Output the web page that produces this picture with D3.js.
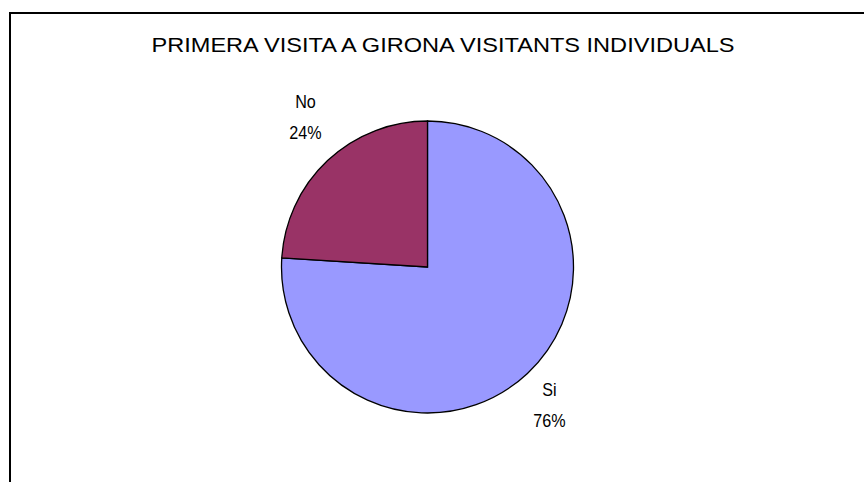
<!DOCTYPE html>
<html><head><meta charset="utf-8">
<script src="https://cdn.jsdelivr.net/npm/d3@7"></script>
<style>html,body{margin:0;padding:0;background:#fff;}svg{display:block;}</style>
</head><body>
<svg id="c" width="864" height="482"></svg>
<script>
const title = "PRIMERA VISITA A GIRONA VISITANTS INDIVIDUALS";
const categories = ["Si", "No"];
const values = [76, 24];
const colors = ["#9999FF", "#993366"];

const FONT = "Liberation Sans, Arial, sans-serif";
const svg = d3.select("#c");
svg.append("rect").attr("x", 10).attr("y", 13).attr("width", 900).attr("height", 600)
  .attr("fill", "#fff").attr("stroke", "#000").attr("stroke-width", 2);

svg.append("text").attr("x", 443).attr("y", 52).attr("text-anchor", "middle")
  .attr("font-family", FONT).attr("font-size", 19.5)
  .attr("textLength", 583).attr("lengthAdjust", "spacingAndGlyphs")
  .text(title);

const cx = 427.5, cy = 267, r = 146;
const data = categories.map((c, i) => ({cat: c, value: values[i], color: colors[i]}));
const pie = d3.pie().value(d => d.value).sort(null);
const arc = d3.arc().innerRadius(0).outerRadius(r);
const g = svg.append("g").attr("transform", `translate(${cx},${cy})`);
const arcs = pie(data);
g.selectAll("path").data(arcs).join("path")
  .attr("d", arc).attr("fill", d => d.data.color)
  .attr("stroke", "#000").attr("stroke-width", 1.3);

const labelR = 189, angShift = 3 * Math.PI / 180;
const total = d3.sum(values);
function narrow(sel) {
  sel.each(function() {
    const w = this.getComputedTextLength();
    d3.select(this).attr("textLength", w * 0.85).attr("lengthAdjust", "spacingAndGlyphs");
  });
}
arcs.forEach(d => {
  const a = (d.startAngle + d.endAngle) / 2 + angShift;
  const x = labelR * Math.sin(a), y = -labelR * Math.cos(a);
  const t1 = g.append("text").attr("text-anchor", "middle")
    .attr("font-family", FONT).attr("font-size", 19)
    .attr("x", x).attr("y", y - 15).text(d.data.cat);
  const t2 = g.append("text").attr("text-anchor", "middle")
    .attr("font-family", FONT).attr("font-size", 19)
    .attr("x", x).attr("y", y + 16).text(Math.round(d.data.value / total * 100) + "%");
  narrow(t1); narrow(t2);
});
</script>
</body></html>
